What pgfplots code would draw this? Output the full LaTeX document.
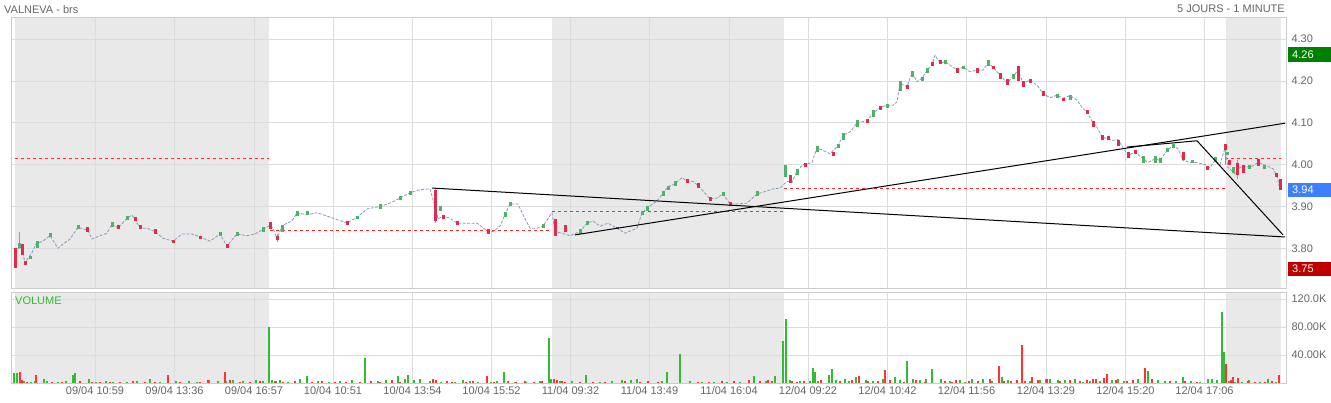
\documentclass[border=0pt]{standalone}
\usepackage{fontspec}
\setmainfont{Liberation Sans}
\usepackage{pgfplots}
\pgfplotsset{compat=1.18}
\definecolor{gridc}{HTML}{DCDCDC}
\definecolor{bordc}{HTML}{CCCCCC}
\definecolor{shadec}{HTML}{E9E9E9}
\definecolor{txtc}{HTML}{666666}
\definecolor{cgreen}{HTML}{4DB36B}
\definecolor{cred}{HTML}{E02A4E}
\definecolor{vgreen}{HTML}{33BB33}
\definecolor{vred}{HTML}{FF3333}
\definecolor{pathc}{HTML}{8A9BB5}
\definecolor{dashred}{HTML}{FF2A2A}
\definecolor{badgeg}{HTML}{008000}
\definecolor{badgeb}{HTML}{3D7FFF}
\definecolor{badger}{HTML}{C00000}
\pgfplotsset{
  common/.style={
    scale only axis, width=1275pt, xmin=11, xmax=1286,
    axis line style={draw=bordc},
    grid=major, grid style={draw=gridc, line width=0.8pt},
    major tick length=0pt,
    xtick={95,174.5,254,333,412.5,491.5,570.5,649.5,729,808,887.5,966.5,1046,1125.5,1204.5},
    yticklabel pos=right,
    yticklabel style={anchor=west, xshift=2pt, text=txtc, font=\fontsize{11}{13}\selectfont},
    xticklabel style={text=txtc, font=\fontsize{11}{13}\selectfont},
    /pgf/number format/assume math mode=true,
    clip=true,
  },
  candleG/.style={draw=cgreen, line width=3pt, unbounded coords=jump, mark=none},
  candleR/.style={draw=cred, line width=3pt, unbounded coords=jump, mark=none},
  dashl/.style={draw=dashred, line width=0.9pt, dash pattern=on 3pt off 3pt, mark=none},
}
\begin{document}
\begin{tikzpicture}
\begin{scope}[x=1pt,y=1pt]
\fill[white] (0,0) rectangle (1331,403);
% shaded sessions (background)
\fill[shadec] (15,115) rectangle (269,386);
\fill[shadec] (552,115) rectangle (784,386);
\fill[shadec] (1226,115) rectangle (1281,386);
\fill[shadec] (15,20) rectangle (269,111);
\fill[shadec] (552,20) rectangle (784,111);
\fill[shadec] (1226,20) rectangle (1281,111);
% titles
\node[anchor=west, text=txtc, font=\fontsize{11}{13}\selectfont, inner sep=0pt] at (4,393) {VALNEVA - brs};
\node[anchor=east, text=txtc, font=\fontsize{11}{13}\selectfont, inner sep=0pt] at (1285,394) {5 JOURS - 1 MINUTE};
\end{scope}

\begin{axis}[common, at={(11pt,115pt)}, anchor=south west, height=271pt,
  ymin=3.705, ymax=4.353, ytick={3.8,3.9,4.0,4.1,4.2,4.3},
  xticklabels={},
  yticklabel={\pgfmathprintnumber[fixed,fixed zerofill,precision=2]{\tick}},
]
% previous-close dashed lines
\addplot[dashl] coordinates {(15,4.015)(269,4.015)};
\addplot[dashl] coordinates {(270,3.843)(552,3.843)};
\addplot[dashl] coordinates {(552,3.889)(784,3.889)};
\addplot[dashl] coordinates {(784,3.944)(1225,3.944)};
\addplot[dashl] coordinates {(1225,4.015)(1281,4.015)};
% price path
\addplot[pathc, line width=0.8pt, dash pattern=on 3pt off 1.5pt, mark=none] coordinates {
(15,3.79)(18,3.80)(22,3.80)(25,3.765)(28,3.776)(32,3.79)(36,3.81)(43,3.817)(50,3.83)(58,3.80)(63,3.81)(70,3.822)(78,3.85)(88,3.843)(92,3.822)(100,3.83)(107,3.836)(112,3.858)(118,3.848)(127,3.872)(132,3.879)(135,3.87)(140,3.848)(147,3.848)(155,3.84)(163,3.824)(173,3.817)(182,3.834)(192,3.834)(200,3.827)(210,3.817)(220,3.834)(227,3.805)(232,3.82)(237,3.834)(247,3.83)(255,3.834)(263,3.845)(270,3.855)(273,3.848)(277,3.822)(282,3.853)(287,3.86)(292,3.865)(297,3.885)(307,3.88)(317,3.885)(327,3.877)(333,3.872)(347,3.86)(357,3.874)(367,3.894)(380,3.90)(390,3.908)(400,3.92)(410,3.933)(420,3.94)(430,3.942)(435,3.90)(438,3.87)(443,3.877)(450,3.872)(457,3.86)(467,3.86)(477,3.86)(488,3.84)(493,3.84)(500,3.853)(505,3.88)(510,3.906)(518,3.906)(523,3.88)(530,3.848)(537,3.848)(543,3.853)(552,3.885)(555,3.84)(563,3.835)(570,3.83)(580,3.84)(587,3.86)(593,3.865)(600,3.853)(608,3.86)(617,3.848)(625,3.836)(637,3.848)(642,3.885)(647,3.896)(657,3.913)(663,3.932)(668,3.947)(675,3.954)(682,3.969)(687,3.96)(693,3.96)(698,3.95)(703,3.937)(710,3.918)(717,3.92)(723,3.93)(730,3.906)(737,3.906)(747,3.908)(757,3.93)(767,3.937)(773,3.942)(780,3.944)(787,3.96)(792,3.957)(797,3.985)(803,4.00)(812,4.005)(817,4.04)(823,4.034)(830,4.026)(838,4.045)(843,4.07)(850,4.078)(857,4.10)(867,4.105)(873,4.123)(880,4.137)(887,4.142)(893,4.142)(897,4.15)(900,4.195)(907,4.186)(912,4.22)(917,4.198)(922,4.207)(927,4.226)(932,4.238)(935,4.262)(940,4.243)(945,4.246)(950,4.238)(957,4.226)(963,4.233)(970,4.222)(977,4.226)(983,4.226)(988,4.243)(993,4.233)(1000,4.214)(1007,4.195)(1013,4.21)(1018,4.226)(1023,4.195)(1030,4.202)(1037,4.19)(1043,4.17)(1050,4.16)(1057,4.166)(1063,4.159)(1070,4.165)(1077,4.154)(1082,4.137)(1087,4.125)(1093,4.10)(1097,4.09)(1102,4.066)(1108,4.062)(1113,4.058)(1118,4.06)(1123,4.04)(1128,4.022)(1135,4.03)(1143,4.014)(1148,4.005)(1155,4.014)(1160,4.01)(1167,4.034)(1173,4.045)(1178,4.038)(1183,4.01)(1190,4.005)(1197,4.005)(1205,4.0)(1210,3.993)(1215,4.01)(1220,4.0)(1225,4.04)(1228,3.993)(1232,3.985)(1235,3.978)(1238,3.99)(1243,3.997)(1250,3.993)(1258,4.005)(1267,3.997)(1273,3.99)(1277,3.973)(1280,3.94)};
% wicks
\addplot[pathc, line width=0.8pt, unbounded coords=jump, mark=none] coordinates {
(19,3.84)(19,3.80)(19,nan)(1225,4.047)(1225,4.0)(1225,nan)(435,3.945)(435,3.86)(435,nan)(277,3.835)(277,3.815)(277,nan)(1237,4.01)(1237,3.965)};
% green candles
\addplot[candleG] coordinates {
(19,3.812)(19,3.80)(19,nan)(30,3.781)(30,3.774)(30,nan)(37,3.817)(37,3.80)(37,nan)(50,3.836)(50,3.826)(50,nan)
(78,3.856)(78,3.846)(78,nan)(112,3.863)(112,3.852)(112,nan)(127,3.876)(127,3.868)(127,nan)(220,3.838)(220,3.83)(220,nan)
(237,3.838)(237,3.83)(237,nan)(263,3.85)(263,3.84)(263,nan)(282,3.856)(282,3.84)(282,nan)(297,3.89)(297,3.876)(297,nan)
(307,3.89)(307,3.88)(307,nan)(357,3.878)(357,3.87)(357,nan)(380,3.905)(380,3.895)(380,nan)(400,3.925)(400,3.915)(400,nan)
(410,3.937)(410,3.928)(410,nan)(440,3.90)(440,3.89)(440,nan)(505,3.886)(505,3.875)(505,nan)(510,3.91)(510,3.90)(510,nan)
(543,3.858)(543,3.848)(543,nan)(580,3.845)(580,3.835)(580,nan)(587,3.866)(587,3.855)(587,nan)(642,3.89)(642,3.879)(642,nan)
(647,3.90)(647,3.89)(647,nan)(663,3.936)(663,3.925)(663,nan)(668,3.95)(668,3.94)(668,nan)(675,3.96)(675,3.95)(675,nan)
(723,3.935)(723,3.925)(723,nan)(757,3.936)(757,3.925)(757,nan)(785,4.00)(785,3.97)(785,nan)(797,3.99)(797,3.975)(797,nan)
(817,4.045)(817,4.03)(817,nan)(838,4.05)(838,4.04)(838,nan)(843,4.076)(843,4.06)(843,nan)(857,4.106)(857,4.09)(857,nan)
(873,4.13)(873,4.115)(873,nan)(887,4.146)(887,4.135)(887,nan)(900,4.20)(900,4.175)(900,nan)(912,4.225)(912,4.21)(912,nan)
(922,4.21)(922,4.20)(922,nan)(927,4.23)(927,4.22)(927,nan)(945,4.25)(945,4.24)(945,nan)(963,4.237)(963,4.228)(963,nan)
(988,4.25)(988,4.235)(988,nan)(1013,4.216)(1013,4.205)(1013,nan)(1057,4.17)(1057,4.16)(1057,nan)(1070,4.166)(1070,4.155)(1070,nan)
(1143,4.02)(1143,4.004)(1143,nan)(1155,4.02)(1155,4.005)(1155,nan)(1160,4.016)(1160,4.005)(1160,nan)(1167,4.04)(1167,4.03)(1167,nan)
(1173,4.05)(1173,4.04)(1173,nan)(1192,4.012)(1192,4.004)(1192,nan)(1215,4.018)(1215,4.006)(1215,nan)(1227,4.03)(1227,4.023)(1227,nan)
(1233,3.995)(1233,3.98)(1233,nan)(1249,4.0)(1249,3.99)(1249,nan)(1264,4.0)(1264,3.99)};
% red candles
\addplot[candleR] coordinates {
(15,3.80)(15,3.752)(15,nan)(22,3.81)(22,3.785)(22,nan)(25,3.77)(25,3.76)(25,nan)(87,3.85)(87,3.84)(87,nan)
(118,3.855)(118,3.845)(118,nan)(135,3.875)(135,3.865)(135,nan)(140,3.855)(140,3.845)(140,nan)(155,3.845)(155,3.835)(155,nan)
(173,3.82)(173,3.813)(173,nan)(200,3.83)(200,3.823)(200,nan)(227,3.81)(227,3.80)(227,nan)(270,3.862)(270,3.845)(270,nan)
(277,3.83)(277,3.82)(277,nan)(347,3.865)(347,3.855)(347,nan)(435,3.94)(435,3.866)(435,nan)(443,3.88)(443,3.87)(443,nan)
(457,3.865)(457,3.855)(457,nan)(488,3.845)(488,3.833)(488,nan)(555,3.87)(555,3.83)(555,nan)(565,3.855)(565,3.84)(565,nan)
(617,3.85)(617,3.845)(617,nan)(687,3.965)(687,3.957)(687,nan)(698,3.955)(698,3.945)(698,nan)(710,3.922)(710,3.914)(710,nan)
(730,3.91)(730,3.90)(730,nan)(790,3.975)(790,3.955)(790,nan)(805,4.005)(805,3.995)(805,nan)(833,4.03)(833,4.02)(833,nan)
(867,4.11)(867,4.10)(867,nan)(880,4.14)(880,4.13)(880,nan)(907,4.19)(907,4.18)(907,nan)(932,4.245)(932,4.235)(932,nan)
(940,4.25)(940,4.24)(940,nan)(957,4.23)(957,4.22)(957,nan)(977,4.23)(977,4.22)(977,nan)(993,4.237)(993,4.228)(993,nan)
(1000,4.22)(1000,4.205)(1000,nan)(1007,4.205)(1007,4.19)(1007,nan)(1018,4.235)(1018,4.20)(1018,nan)(1023,4.20)(1023,4.185)(1023,nan)
(1030,4.205)(1030,4.195)(1030,nan)(1043,4.175)(1043,4.165)(1043,nan)(1063,4.16)(1063,4.152)(1063,nan)(1087,4.13)(1087,4.12)(1087,nan)
(1093,4.105)(1093,4.09)(1093,nan)(1102,4.07)(1102,4.06)(1102,nan)(1108,4.068)(1108,4.058)(1108,nan)(1118,4.06)(1118,4.045)(1118,nan)
(1128,4.03)(1128,4.015)(1128,nan)(1135,4.035)(1135,4.025)(1135,nan)(1183,4.03)(1183,4.01)(1183,nan)(1207,3.997)(1207,3.988)(1207,nan)
(1225,4.05)(1225,4.035)(1225,nan)(1229,4.01)(1229,4.0)(1229,nan)(1237,4.005)(1237,3.975)(1237,nan)
(1243,4.00)(1243,3.98)(1243,nan)(1258,4.013)(1258,3.997)(1258,nan)(1276,3.98)(1276,3.97)(1276,nan)
(1280,3.965)(1280,3.94)};
% trend lines
\addplot[black, line width=1pt, mark=none] coordinates {(432,3.944)(1285,3.827)};
\addplot[black, line width=1pt, mark=none] coordinates {(575,3.832)(1285,4.099)};
\addplot[black, line width=1pt, mark=none] coordinates {(1127,4.042)(1197,4.057)(1283,3.832)};
\end{axis}

\begin{axis}[common, at={(11pt,20pt)}, anchor=south west, height=91pt,
  ymin=0, ymax=130, ytick={40,80,120}, yticklabels={40.00K,80.00K,120.0K},
  xticklabels={09/04 10:59,09/04 13:36,09/04 16:57,10/04 10:51,10/04 13:54,10/04 15:52,11/04 09:32,11/04 13:49,11/04 16:04,12/04 09:22,12/04 10:42,12/04 11:56,12/04 13:29,12/04 15:20,12/04 17:06},
]
\addplot[ycomb, vgreen, line width=1.3pt, mark=none] coordinates {
(14,14)(17,14)(24,3)(31,2)(35,3)(44,5)(47,3)(58,2)(66,3)(73,12)(75,14)(89,6)(96,2)(106,3)(113,2)(127,2)(137,3)(150,5)(160,2)(176,3)(189,3)(197,2)(209,4)(218,3)(226,3)(233,4)(243,3)(256,4)(263,3)(269,80)(272,4)(276,3)(280,4)(288,2)(300,6)(307,10)(318,3)(329,2)(340,3)(352,4)(365,35)(378,3)(386,4)(398,10)(405,5)(408,12)(414,4)(420,5)(430,3)(441,2)(455,2)(463,4)(470,3)(478,2)(491,2)(497,3)(504,16)(515,2)(526,2)(540,3)(549,64)(551,6)(560,3)(572,3)(586,12)(600,2)(612,3)(622,4)(631,4)(637,5)(662,3)(667,16)(680,41)(690,3)(702,2)(714,2)(727,2)(740,2)(754,10)(766,3)(775,10)(783,60)(786,91)(790,4)(800,3)(810,3)(813,22)(815,15)(818,3)(829,12)(832,20)(836,4)(845,5)(849,3)(856,8)(866,4)(873,3)(883,5)(895,8)(900,4)(907,31)(913,5)(920,4)(926,6)(932,20)(941,5)(950,3)(960,4)(965,2)(972,6)(983,5)(992,3)(1002,8)(1008,4)(1030,3)(1040,4)(1046,6)(1050,5)(1058,4)(1065,4)(1075,5)(1083,2)(1090,3)(1100,3)(1112,4)(1118,5)(1124,3)(1138,5)(1148,17)(1158,4)(1165,3)(1176,3)(1183,8)(1191,3)(1200,2)(1208,5)(1212,5)(1217,4)(1222,101)(1224,44)(1229,3)(1235,2)(1242,2)(1249,4)(1260,2)(1268,5)(1276,2)};
\addplot[ycomb, vred, line width=1.3pt, mark=none] coordinates {
(20,16)(22,4)(27,2)(36,12)(52,2)(62,2)(80,3)(92,2)(100,2)(110,2)(120,2)(133,3)(145,2)(155,2)(168,12)(180,2)(200,2)(208,4)(225,15)(230,4)(240,2)(250,2)(260,3)(275,3)(283,2)(295,3)(312,2)(322,3)(335,2)(346,2)(360,2)(371,3)(380,2)(392,4)(400,2)(433,6)(436,4)(447,3)(452,2)(466,2)(473,3)(487,10)(494,2)(508,3)(516,2)(525,3)(534,2)(542,3)(554,5)(557,4)(562,3)(565,2)(580,2)(593,2)(605,2)(625,3)(640,2)(648,3)(658,2)(698,2)(709,2)(722,3)(734,3)(749,4)(760,3)(768,4)(772,3)(792,3)(797,2)(804,3)(821,4)(840,3)(852,4)(859,10)(868,3)(878,3)(885,19)(890,4)(904,2)(916,4)(925,2)(945,3)(952,2)(956,4)(969,3)(978,3)(990,5)(999,24)(1004,3)(1011,3)(1017,4)(1022,54)(1025,3)(1032,8)(1038,4)(1047,5)(1060,3)(1070,4)(1080,3)(1087,4)(1093,6)(1096,5)(1104,7)(1107,13)(1116,4)(1127,3)(1133,4)(1145,21)(1152,5)(1170,3)(1185,3)(1197,2)(1226,27)(1231,4)(1233,9)(1238,7)(1248,3)(1255,2)(1265,2)(1272,3)(1279,12)};
\end{axis}

\begin{scope}[x=1pt,y=1pt]
% price badges
\fill[badgeg] (1288,341) rectangle (1331,356);
\node[anchor=west, text=white, font=\fontsize{11}{13}\selectfont, inner sep=0pt] at (1292,348.5) {4.26};
\fill[badgeb] (1288,206) rectangle (1331,220);
\node[anchor=west, text=white, font=\fontsize{11}{13}\selectfont, inner sep=0pt] at (1292,213) {3.94};
\fill[badger] (1288,127) rectangle (1331,141);
\node[anchor=west, text=white, font=\fontsize{11}{13}\selectfont, inner sep=0pt] at (1292,134) {3.75};
\node[anchor=west, text=vgreen, font=\fontsize{11}{13}\selectfont, inner sep=0pt] at (15,102) {VOLUME};
\pgfresetboundingbox
\path[use as bounding box] (0,0) rectangle (1331,403);
\end{scope}
\end{tikzpicture}
\end{document}
